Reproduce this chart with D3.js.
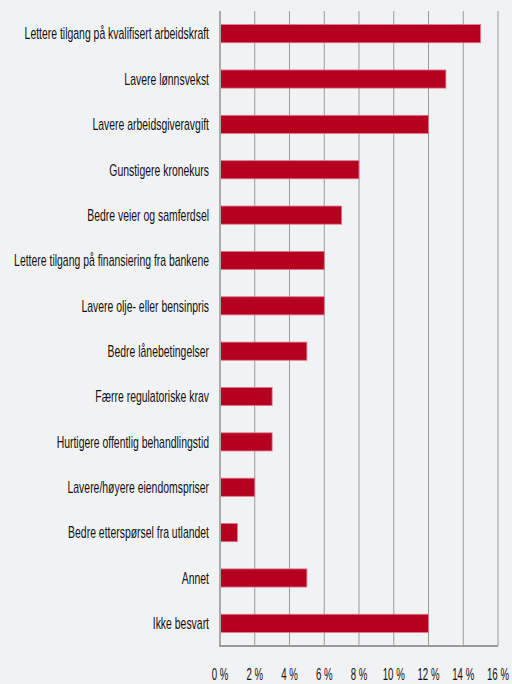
<!DOCTYPE html>
<html>
<head>
<meta charset="utf-8">
<script src="https://cdn.jsdelivr.net/npm/d3@7"></script>
<style>
  body { margin: 0; background: #f1f2f4; }
  svg { display: block; }
  text { font-family: "Liberation Sans", Arial, sans-serif; fill: #111; }
</style>
</head>
<body>
<svg width="512" height="684"></svg>
<script>
// Categories and shares (%)
const categories = [
  "Lettere tilgang på kvalifisert arbeidskraft",
  "Lavere lønnsvekst",
  "Lavere arbeidsgiveravgift",
  "Gunstigere kronekurs",
  "Bedre veier og samferdsel",
  "Lettere tilgang på finansiering fra bankene",
  "Lavere olje- eller bensinpris",
  "Bedre lånebetingelser",
  "Færre regulatoriske krav",
  "Hurtigere offentlig behandlingstid",
  "Lavere/høyere eiendomspriser",
  "Bedre etterspørsel fra utlandet",
  "Annet",
  "Ikke besvart"
];
const values = [15, 13, 12, 8, 7, 6, 6, 5, 3, 3, 2, 1, 5, 12];
const ticks = [0, 2, 4, 6, 8, 10, 12, 14, 16];

const svg = d3.select("svg");
const plotLeft = 220, plotRight = 498, plotTop = 11, plotBottom = 646;

const x = d3.scaleLinear().domain([0, 16]).range([plotLeft, plotRight]);
const y = d3.scaleBand().domain(categories).range([plotTop, plotBottom]).paddingInner(0.6).paddingOuter(0.3);

// gridlines
svg.append("g")
  .selectAll("line")
  .data(ticks.slice(1))
  .enter()
  .append("line")
  .attr("x1", d => x(d)).attr("x2", d => x(d))
  .attr("y1", plotTop).attr("y2", plotBottom)
  .style("stroke", "#9a9a9a")
  .style("stroke-width", 1);

// bars
svg.append("g")
  .selectAll("rect")
  .data(values)
  .enter()
  .append("rect")
  .attr("x", x(0))
  .attr("y", (d, i) => y(categories[i]))
  .attr("width", d => x(d) - x(0))
  .attr("height", y.bandwidth())
  .style("fill", "#b5001f")
  .style("stroke", "#e07890")
  .style("stroke-width", 0.8);

// axis lines
svg.append("line")
  .attr("x1", plotLeft).attr("x2", plotLeft).attr("y1", plotTop).attr("y2", plotBottom)
  .style("stroke", "#aaa").style("stroke-width", 2);
svg.append("line")
  .attr("x1", plotLeft - 1).attr("x2", plotRight).attr("y1", plotBottom).attr("y2", plotBottom)
  .style("stroke", "#999").style("stroke-width", 2);

// category labels (narrow font look: squeeze horizontally)
const labels = svg.append("g")
  .selectAll("text")
  .data(categories)
  .enter()
  .append("text")
  .attr("text-anchor", "end")
  .attr("dy", "0.36em")
  .style("font-size", "16px")
  .text(d => d);

const longest = labels.filter(d => d === categories[5]).node().getComputedTextLength();
const sxLabel = 195 / longest;
labels.attr("transform", d => "translate(209," + (y(d) + y.bandwidth() / 2) + ") scale(" + sxLabel + ",1)");

// tick labels
const tickText = svg.append("g")
  .selectAll("text")
  .data(ticks)
  .enter()
  .append("text")
  .attr("text-anchor", "middle")
  .style("font-size", "16px")
  .text(d => d + " %");

const tenWidth = tickText.filter(d => d === 10).node().getComputedTextLength();
const sxTick = 22 / tenWidth;
tickText.attr("transform", d => "translate(" + x(d) + ",680) scale(" + sxTick + ",1)");
</script>
</body>
</html>
